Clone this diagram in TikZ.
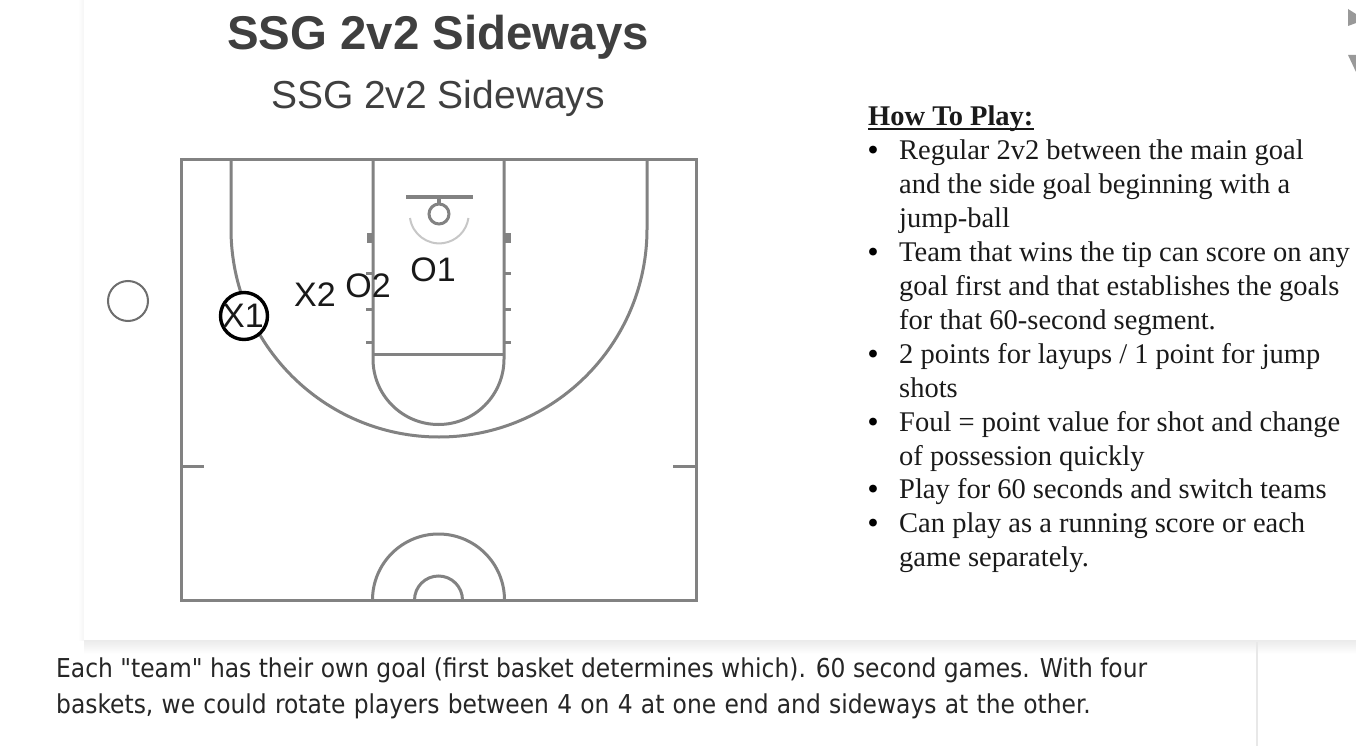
\documentclass[tikz,border=0pt]{standalone}
\usepackage{fontspec}
\setmainfont{Liberation Sans}
\newfontfamily\serifface{Liberation Serif}
\newfontfamily\webface{DejaVu Sans Condensed}
\definecolor{courtline}{HTML}{828282}
\definecolor{titlegray}{HTML}{3F3F3F}
\definecolor{bodyblack}{HTML}{1A1A1A}
\tikzset{
  court/.style={draw=courtline,line width=3pt},
  thinmark/.style={draw=courtline,line width=3pt},
  player/.style={inner sep=0pt,text=black!90,font=\fontsize{34}{34}\selectfont},
  howline/.style={anchor=base west,inner sep=0pt,text=bodyblack,font=\serifface\fontsize{28.5}{28.5}\selectfont},
  dotmark/.style={anchor=base west,inner sep=0pt,text=black,font=\serifface\bfseries\fontsize{28.5}{28.5}\selectfont},
  webline/.style={anchor=base west,inner sep=0pt,text=black!85,font=\webface\fontsize{26}{26}\selectfont},
}
\begin{document}
\begin{tikzpicture}[x=1pt,y=-1pt]
\useasboundingbox (0,0) rectangle (1356,746);
\fill[white] (0,0) rectangle (1356,746);
% card shadow
\shade[top color=black!8,bottom color=white] (84,640) rectangle (1356,654);
\shade[left color=white,right color=black!4] (78,0) rectangle (84,640);
\fill[white] (84,0) rectangle (1356,640);
\draw[black!9,line width=1.6pt] (1257,642) -- (1257,746);
% fragments at right edge
\fill[black!40] (1348,9) -- (1356,14) -- (1356,23) -- (1348,26) -- cycle;
\fill[black!40] (1348,55) -- (1356,55) -- (1356,72) -- cycle;
% titles
\node[inner sep=0pt,anchor=base,text=titlegray,font=\bfseries\fontsize{47.4}{47.4}\selectfont] (title) at (438,50) {SSG 2v2 Sideways};
\node[inner sep=0pt,anchor=base,text=titlegray,font=\fontsize{39}{39}\selectfont] (subtitle) at (438,109) {SSG 2v2 Sideways};
% court
\draw[court] (181,160) rectangle (696,600);
\draw[court] (231,160) -- (231,229) arc[start angle=180,end angle=0,radius=208] -- (647,160);
\draw[court] (373,160) -- (373,359) arc[start angle=180,end angle=0,radius=65.5] -- (504,160);
\draw[court] (373,354) -- (504,354);
\draw[court] (181,466.5) -- (204,466.5);
\draw[court] (673,466.5) -- (696,466.5);
\draw[court] (372.5,600) arc[start angle=0,end angle=180,radius=-66];
\draw[court] (414.5,600) arc[start angle=0,end angle=180,radius=-24];
% hoop
\draw[draw=courtline,line width=3.4pt] (406,197) -- (473,197);
\draw[draw=courtline,line width=4pt] (439,197) -- (439,204);
\draw[thinmark] (439,214) circle[radius=10];
\draw[draw=black!22,line width=2pt] (410,218) arc[start angle=172,end angle=8,radius=29.5];
% lane ticks
\foreach \ty in {273,309,342}{
  \draw[thinmark] (366,\ty) -- (373,\ty);
  \draw[thinmark] (504,\ty) -- (511,\ty);
}
\fill[courtline] (367,233) rectangle (373,243);
\fill[courtline] (504,233) rectangle (511,243);
% players
\draw[courtline!85!black,line width=2pt,fill=white] (128,301) circle[radius=20];
\node[circle,draw=black,line width=3.4pt,minimum size=47pt,inner sep=0pt,fill=white] (xone) at (244,316) {};
\node[player] (xonelabel) at (243,316) {X1};
\node[player] (xtwo) at (315,295) {X2};
\node[player] (otwo) at (368,286) {O2};
\node[player] (oone) at (433,270) {O1};
% how to play
\node[howline,font=\serifface\bfseries\fontsize{28.5}{28.5}\selectfont] (head) at (868,125.5) {How To Play:};
\draw[black!90,line width=2pt] ([yshift=-4pt]head.base west) -- ([yshift=-4pt]head.base east);
\foreach \n/\by in {a/159.5,b/261.5,c/363.5,d/431.5,e/498.5,f/532.5}{
  \node[dotmark] (dot\n) at (868,\by) {•};
}
\node[howline] (l1) at (899,159.5) {Regular 2v2 between the main goal};
\node[howline] (l2) at (899,193.5) {and the side goal beginning with a};
\node[howline] (l3) at (899,227.5) {jump-ball};
\node[howline] (l4) at (899,261.5) {Team that wins the tip can score on any};
\node[howline] (l5) at (899,295.5) {goal first and that establishes the goals};
\node[howline] (l6) at (899,329.5) {for that 60-second segment.};
\node[howline] (l7) at (899,363.5) {2 points for layups / 1 point for jump};
\node[howline] (l8) at (899,397.5) {shots};
\node[howline] (l9) at (899,431.5) {Foul = point value for shot and change};
\node[howline] (l10) at (899,465.5) {of possession quickly};
\node[howline] (l11) at (899,498.5) {Play for 60 seconds and switch teams};
\node[howline] (l12) at (899,532.5) {Can play as a running score or each};
\node[howline] (l13) at (899,566.5) {game separately.};
% caption
\node[webline] (cap1) at (56,677) {Each "team" has their own goal (first basket determines which). 60 second games. With four};
\node[webline] (cap2) at (56,713.5) {\spaceskip=\dimexpr\fontdimen2\font+0.85pt\relax baskets, we could rotate players between 4 on 4 at one end and sideways at the other.};
\end{tikzpicture}
\end{document}
